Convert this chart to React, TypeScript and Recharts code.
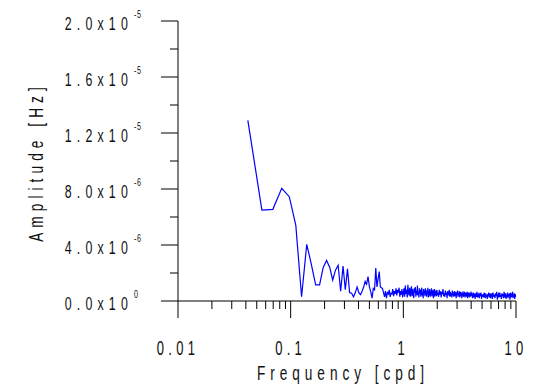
import React from 'react';
import { LineChart, Line, XAxis, YAxis } from 'recharts';

// spectrum bin width (cpd); amplitudes below are in units of 1e-6 Hz
const DF = 1 / 72;

// bins 3..72
const lowBins = [
  12.9, 6.5, 6.55, 8.05, 7.45, 5.4, 0.3, 4.05, 2.6, 1.15,
  1.15, 2.4, 2.9, 2.4, 1.5, 2.2, 2.55, 0.7, 2.5, 0.8,
  2.3, 0.6, 0.55, 0.3, 0.6, 1.0, 0.6, 0.45, 0.7, 1.0,
  1.4, 1.2, 1.75, 1.0, 0.65, 0.2, 0.9, 0.8, 2.35, 1.0,
  1.6, 2.1, 1.0, 0.95, 0.9, 0.6, 0.3, 0.7, 0.2, 0.6,
  0.5, 0.8, 0.3, 0.55, 0.5, 0.85, 0.35, 0.7, 0.5, 0.9,
  0.4, 0.8, 0.6, 0.95, 0.3, 0.7, 0.45, 0.85, 0.25, 0.6,
];

// bins 73..144
const midBins = [
  0.9, 0.3, 1.1, 0.5, 0.8, 0.25, 1.15, 0.6, 0.4, 0.95, 0.3, 0.7,
  1.05, 0.35, 0.85, 0.5, 0.2, 0.9, 0.6, 1.0, 0.3, 0.75, 0.45, 1.1,
  0.4, 0.65, 0.25, 0.9, 0.55, 0.8, 0.3, 0.7, 0.95, 0.4, 0.6, 0.2,
  0.85, 0.5, 0.75, 0.35, 0.9, 0.45, 0.65, 0.3, 0.8, 0.55, 0.95, 0.25,
  0.7, 0.4, 0.85, 0.5, 0.3, 0.75, 0.6, 0.9, 0.35, 0.65, 0.45, 0.8,
  0.2, 0.7, 0.5, 0.85, 0.3, 0.6, 0.4, 0.75, 0.55, 0.35, 0.8, 0.45,
];

// every 2nd bin, 146..288
const highBins = [
  0.6, 0.3, 0.8, 0.45, 0.7, 0.25, 0.65, 0.5, 0.85, 0.35, 0.55, 0.3,
  0.75, 0.45, 0.6, 0.2, 0.7, 0.5, 0.4, 0.8, 0.3, 0.65, 0.45, 0.55,
  0.25, 0.75, 0.4, 0.6, 0.3, 0.7, 0.5, 0.35, 0.65, 0.2, 0.6, 0.45,
  0.75, 0.3, 0.55, 0.4, 0.7, 0.25, 0.5, 0.65, 0.35, 0.6, 0.2, 0.55,
  0.45, 0.7, 0.3, 0.5, 0.4, 0.65, 0.25, 0.55, 0.35, 0.6, 0.45, 0.3,
  0.65, 0.2, 0.5, 0.4, 0.6, 0.3, 0.55, 0.25, 0.5, 0.45, 0.35, 0.6,
];

// every 4th bin, 292..432
const upperBins = [
  0.5, 0.2, 0.6, 0.35, 0.45, 0.15, 0.55, 0.3, 0.65, 0.25, 0.4, 0.5,
  0.2, 0.55, 0.35, 0.6, 0.15, 0.45, 0.3, 0.5, 0.25, 0.6, 0.4, 0.2,
  0.55, 0.3, 0.45, 0.15, 0.5, 0.35, 0.6, 0.25, 0.4, 0.55, 0.2, 0.45,
];

// every 6th bin, 438..720
const topBins = [
  0.5, 0.15, 0.6, 0.3, 0.45, 0.2, 0.55, 0.35, 0.65, 0.1, 0.4, 0.5,
  0.25, 0.6, 0.3, 0.45, 0.15, 0.55, 0.35, 0.5, 0.2, 0.65, 0.4, 0.25,
  0.55, 0.15, 0.45, 0.3, 0.6, 0.2, 0.5, 0.35, 0.55, 0.1, 0.45, 0.6,
  0.25, 0.5, 0.3, 0.65, 0.2, 0.45, 0.35, 0.55, 0.15, 0.5, 0.3, 0.45,
];

const segments = [
  { start: 3, step: 1, values: lowBins },
  { start: 73, step: 1, values: midBins },
  { start: 146, step: 2, values: highBins },
  { start: 292, step: 4, values: upperBins },
  { start: 438, step: 6, values: topBins },
];

const data = segments.flatMap((s) =>
  s.values.map((v, i) => ({ f: (s.start + i * s.step) * DF, a: v }))
);

const xMajor = [0.01, 0.1, 1, 10];
const xMajorLabels = ['0.01', '0.1', '1', '10'];
const xTicks = [
  0.01, 0.02, 0.03, 0.04, 0.05, 0.06, 0.07, 0.08, 0.09,
  0.1, 0.2, 0.3, 0.4, 0.5, 0.6, 0.7, 0.8, 0.9,
  1, 2, 3, 4, 5, 6, 7, 8, 9, 10,
];

const yTicks = [0, 2, 4, 6, 8, 10, 12, 14, 16, 18, 20];
const yMajor = [0, 4, 8, 12, 16, 20];
const yMantissa = ['0.0', '4.0', '8.0', '1.2', '1.6', '2.0'];
const yExponent = ['0', '-6', '-6', '-5', '-5', '-5'];

const FONT = "'Liberation Sans', Arial, sans-serif";
const SQ = 0.65;

const XTick = (props: any) => {
  const { x, y, payload } = props;
  const idx = xMajor.findIndex((m) => Math.abs(m - payload.value) < 1e-9);
  const major = idx >= 0;
  return (
    <g>
      <line x1={x} x2={x} y1={y} y2={y + (major ? 17 : 8)} stroke="#000" />
      {major && (
        <text
          transform={`translate(${x},${y + 54}) scale(${SQ},1)`}
          textAnchor="middle"
          fontFamily={FONT}
          fontSize={20}
          style={{ letterSpacing: '6.6px' }}
          fill="#111"
        >
          {xMajorLabels[idx]}
        </text>
      )}
    </g>
  );
};

const YTick = (props: any) => {
  const { x, y, payload } = props;
  const idx = yMajor.indexOf(payload.value);
  const major = idx >= 0;
  return (
    <g>
      <line x1={x - (major ? 17 : 8)} x2={x} y1={y} y2={y} stroke="#000" />
      {major && (
        <g>
          <text
            transform={`translate(${x - 45},${y + 8.5}) scale(${SQ},1)`}
            textAnchor="end"
            fontFamily={FONT}
            fontSize={19}
            style={{ letterSpacing: '8px' }}
            fill="#111"
          >
            {yMantissa[idx] + 'x10'}
          </text>
          <text
            transform={`translate(${x - 44},${y - 3}) scale(${SQ},1)`}
            textAnchor="start"
            fontFamily={FONT}
            fontSize={11}
            style={{ letterSpacing: '1px' }}
            fill="#111"
          >
            {yExponent[idx]}
          </text>
        </g>
      )}
    </g>
  );
};

export default function App() {
  return (
    <div style={{ position: 'absolute', left: 0, top: 0, background: '#fff' }}>
      <LineChart
        width={533}
        height={388}
        data={data}
        margin={{ top: 21, right: 17, bottom: 0, left: 0 }}
      >
        <XAxis
          dataKey="f"
          type="number"
          scale="log"
          domain={[0.01, 10]}
          allowDataOverflow
          ticks={xTicks}
          interval={0}
          tick={<XTick />}
          tickLine={false}
          tickSize={0}
          tickMargin={0}
          height={87}
          axisLine={{ stroke: '#000' }}
        />
        <YAxis
          type="number"
          domain={[0, 20]}
          ticks={yTicks}
          interval={0}
          tick={<YTick />}
          tickLine={false}
          tickSize={0}
          tickMargin={0}
          width={178}
          axisLine={{ stroke: '#000' }}
        />
        <Line
          dataKey="a"
          stroke="#0000ff"
          strokeWidth={1.2}
          dot={false}
          isAnimationActive={false}
        />
        <text
          transform={`translate(43,162) rotate(-90) scale(${SQ},1)`}
          textAnchor="middle"
          fontFamily={FONT}
          fontSize={21}
          style={{ letterSpacing: '7.8px' }}
          fill="#111"
        >
          Amplitude [Hz]
        </text>
        <text
          transform={`translate(343,380) scale(${SQ},1)`}
          textAnchor="middle"
          fontFamily={FONT}
          fontSize={21}
          style={{ letterSpacing: '7.6px' }}
          fill="#111"
        >
          Frequency [cpd]
        </text>
      </LineChart>
    </div>
  );
}
